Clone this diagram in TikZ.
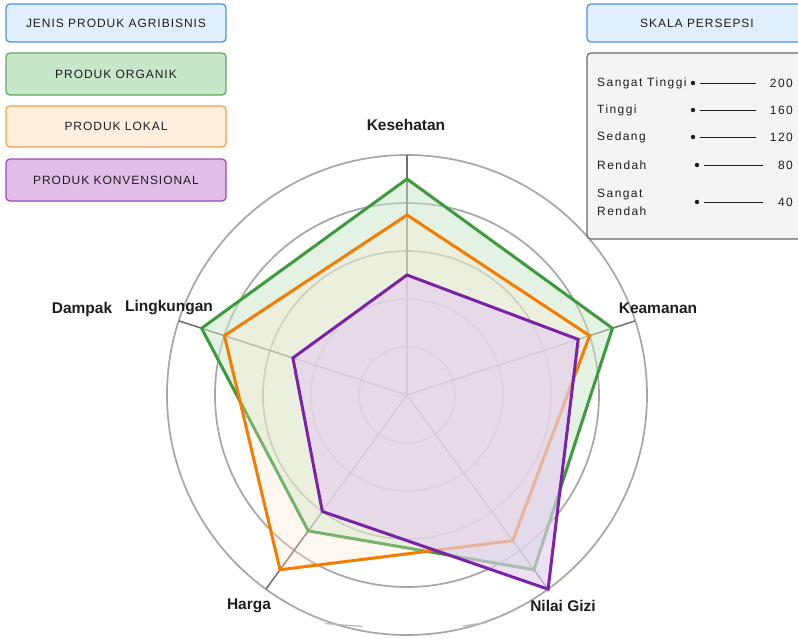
\documentclass[tikz,border=0pt]{standalone}
\usepackage{fontspec}
\setmainfont{Liberation Sans}
\newfontfamily\legfont[LetterSpace=8]{Liberation Sans}
\newfontfamily\scalefont[LetterSpace=12]{Liberation Sans}
\usetikzlibrary{calc}

\definecolor{ringc}{HTML}{A6A6A6}
\definecolor{axisc}{HTML}{6E6E6E}
\definecolor{txt}{HTML}{1E1E1E}
\definecolor{orgline}{HTML}{3D9A3D}
\definecolor{orgfill}{HTML}{C8E6C9}
\definecolor{lokline}{HTML}{F57C00}
\definecolor{lokfill}{HTML}{FFEBD2}
\definecolor{konline}{HTML}{7B22A8}
\definecolor{konfill}{HTML}{E4D0EE}
\definecolor{blueF}{HTML}{E1EFFC}
\definecolor{blueD}{HTML}{4F94DE}
\definecolor{greenF}{HTML}{C8E6C9}
\definecolor{greenD}{HTML}{62A862}
\definecolor{orangeF}{HTML}{FFF0DE}
\definecolor{orangeD}{HTML}{F5A04C}
\definecolor{purpleF}{HTML}{E1BEE7}
\definecolor{purpleD}{HTML}{9A4DBB}
\definecolor{panelF}{HTML}{F4F4F4}
\definecolor{panelD}{HTML}{6A6A6A}

\tikzset{
  ring/.style={draw=ringc, line width=1.7pt},
  axisline/.style={draw=axisc, line width=1.5pt},
  series/.style={line width=3pt, line join=miter},
  axislabel/.style={font=\bfseries\fontsize{15.5}{18}\selectfont, text=txt, inner sep=0pt},
  legbox/.style={rounded corners=4pt, line width=1.3pt, minimum width=220pt,
    inner sep=0pt, font=\legfont\fontsize{12}{14}\selectfont, text=txt},
  scaletext/.style={font=\scalefont\fontsize{12}{15}\selectfont, text=txt, inner sep=0pt},
  scaledot/.style={circle, fill=txt, inner sep=0pt, minimum size=4.4pt},
  scaleline/.style={draw=txt, line width=1pt}
}

\begin{document}
\begin{tikzpicture}[x=1pt, y=-1pt]
\clip (0,0) rectangle (798,638);
\fill[white] (0,0) rectangle (798,638);

% radar grid, axes and data polygons around the centre
\begin{scope}[shift={(407,395)}, x=1pt, y=1pt]
  \foreach \r in {48,96,144,192,240}
    \draw[ring] (0,0) circle[radius=\r];
  \coordinate (ctr) at (0,0);
  \foreach \a/\n in {90/kes,18/kea,-54/gizi,234/harga,162/ling}
    \coordinate (ax-\n) at (\a:240);
  \foreach \n in {kes,kea,gizi,harga,ling}
    \draw[axisline] (ctr) -- (ax-\n);

  % Produk Organik
  \coordinate (o1) at (90:216);  \coordinate (o2) at (18:216);
  \coordinate (o3) at (-54:216); \coordinate (o4) at (234:168);
  \coordinate (o5) at (162:216);
  \filldraw[series, draw=orgline, fill=orgfill, fill opacity=.5]
    (o1) -- (o2) -- (o3) -- (o4) -- (o5) -- cycle;

  % Produk Lokal
  \coordinate (l1) at (90:180);  \coordinate (l2) at (18:192);
  \coordinate (l3) at (-54:180); \coordinate (l4) at (234:216);
  \coordinate (l5) at (162:192);
  \filldraw[series, draw=lokline, fill=lokfill, fill opacity=.3]
    (l1) -- (l2) -- (l3) -- (l4) -- (l5) -- cycle;

  % Produk Konvensional
  \coordinate (k1) at (90:120);  \coordinate (k2) at (18:180);
  \coordinate (k3) at (-54:240); \coordinate (k4) at (234:144);
  \coordinate (k5) at (162:120);
  \filldraw[series, draw=konline, fill=konfill, fill opacity=.65]
    (k1) -- (k2) -- (k3) -- (k4) -- (k5) -- cycle;
\end{scope}

% short strokes under the outer ring
\coordinate (s1a) at (325,623.5); \coordinate (s1b) at (362,626.5);
\coordinate (s2a) at (463,626);   \coordinate (s2b) at (487,622.5);
\draw[draw=ringc!80, line width=1.2pt] (s1a) -- (s1b);
\draw[draw=ringc!80, line width=1.2pt] (s2a) -- (s2b);

% axis labels
\node[axislabel] (lab-kes) at (406,125) {Kesehatan};
\node[axislabel] (lab-kea) at (658,308) {Keamanan};
\node[axislabel] (lab-gizi) at (563,606) {Nilai Gizi};
\node[axislabel] (lab-harga) at (249,606) {Harga};
\node[axislabel] (lab-ling) at (169,308) {Lingkungan};
\node[axislabel] (lab-dampak) at (82,309) {Dampak};

% legend of product types
\node[legbox, fill=blueF, draw=blueD, minimum height=38pt] (leg-title) at (116,23) {JENIS PRODUK AGRIBISNIS};
\node[legbox, fill=greenF, draw=greenD, minimum height=42pt] (leg-org) at (116,74) {PRODUK ORGANIK};
\node[legbox, fill=orangeF, draw=orangeD, minimum height=41pt] (leg-lok) at (116,126.5) {PRODUK LOKAL};
\node[legbox, fill=purpleF, draw=purpleD, minimum height=42pt] (leg-kon) at (116,180) {PRODUK KONVENSIONAL};

% perception scale
\draw[rounded corners=4pt, line width=1.3pt, fill=blueF, draw=blueD] (587,4) rectangle (808,42);
\node[legbox, draw=none, minimum width=0pt] (scale-title) at (697,23) {SKALA PERSEPSI};
\draw[rounded corners=4pt, line width=1.2pt, fill=panelF, draw=panelD] (587,53) rectangle (810,239);

\foreach \i/\lbl/\y/\dx/\ex/\val in {
    1/Sangat Tinggi/83/693/756/200,
    2/Tinggi/110/693/756/160,
    3/Sedang/137/693/756/120,
    4/Rendah/165/697/763/80}{
  \node[scaletext, anchor=west] (sc-lab-\i) at (597,\y) {\lbl};
  \node[scaledot] (sc-dot-\i) at (\dx,\y) {};
  \coordinate (sc-end-\i) at (\ex,\y);
  \draw[scaleline] ($(sc-dot-\i)+(7,0)$) -- (sc-end-\i);
  \node[scaletext, anchor=east] (sc-val-\i) at (793,\y) {\val};
}
\node[scaletext, anchor=west, align=left] (sc-lab-5) at (597,202) {Sangat\\[3pt]Rendah};
\node[scaledot] (sc-dot-5) at (697,202) {};
\coordinate (sc-end-5) at (763,202);
\draw[scaleline] ($(sc-dot-5)+(7,0)$) -- (sc-end-5);
\node[scaletext, anchor=east] (sc-val-5) at (793,202) {40};
\end{tikzpicture}
\end{document}
